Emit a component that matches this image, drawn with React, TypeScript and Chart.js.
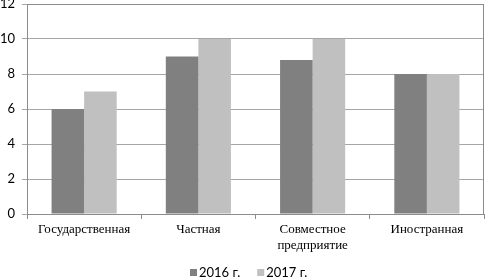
import React, { useEffect, useRef } from "react";
import { Chart, registerables } from "chart.js";

Chart.register(...registerables);

const categories: (string | string[])[] = [
  "Государственная",
  "Частная",
  ["Совместное", "предприятие"],
  "Иностранная",
];
const series2016 = [6, 9, 8.8, 8];
const series2017 = [7, 10, 10, 8];
const seriesLabels = ["2016 г.", "2017 г."];
const seriesColors = ["#808080", "#c0c0c0"];
const yTicks = [0, 2, 4, 6, 8, 10, 12];

const frame = {
  id: "frame",
  afterDraw(chart: any) {
    const { ctx, chartArea } = chart;
    ctx.save();
    ctx.strokeStyle = "#8c8c8c";
    ctx.lineWidth = 1;
    ctx.strokeRect(
      Math.round(chartArea.left) + 0.5,
      Math.round(chartArea.top) + 0.5,
      Math.round(chartArea.right - chartArea.left) - 1,
      Math.round(chartArea.bottom - chartArea.top)
    );
    ctx.restore();
  },
};

const bottomLegend = {
  id: "bottomLegend",
  afterDraw(chart: any) {
    const { ctx } = chart;
    ctx.save();
    ctx.font = "13px Lato";
    ctx.textBaseline = "middle";
    ctx.textAlign = "left";
    const box = 7;
    const gap = 2;
    const spacing = 17;
    const ds = chart.data.datasets;
    const widths = ds.map((d: any) => box + gap + ctx.measureText(d.label).width);
    const total = widths.reduce((a: number, b: number) => a + b, 0) + spacing * (ds.length - 1);
    let x = Math.round(248.5 - total / 2);
    const y = 272;
    ds.forEach((d: any, i: number) => {
      ctx.fillStyle = d.backgroundColor;
      ctx.fillRect(x, y - 3, box, box);
      ctx.fillStyle = "#000";
      ctx.fillText(d.label, x + box + gap, y + 1);
      x += widths[i] + spacing;
    });
    ctx.restore();
  },
};

export default function App() {
  const ref = useRef<HTMLCanvasElement>(null);
  useEffect(() => {
    document.body.style.margin = "0";
    const chart = new Chart(ref.current!, {
      type: "bar",
      data: {
        labels: categories,
        datasets: [
          {
            label: seriesLabels[0],
            data: series2016,
            backgroundColor: seriesColors[0],
            categoryPercentage: 0.57,
            barPercentage: 1,
          },
          {
            label: seriesLabels[1],
            data: series2017,
            backgroundColor: seriesColors[1],
            categoryPercentage: 0.57,
            barPercentage: 1,
          },
        ],
      },
      options: {
        animation: false,
        responsive: false,
        maintainAspectRatio: false,
        layout: { padding: { top: 4, right: 1, left: 0, bottom: 22 } },
        plugins: {
          tooltip: { enabled: false },
          legend: { display: false },
        },
        scales: {
          x: {
            grid: {
              drawOnChartArea: false,
              drawTicks: true,
              tickLength: 5,
              color: "#8c8c8c",
              offset: true,
            },
            border: { color: "#8c8c8c" },
            ticks: {
              color: "#000",
              font: { family: "'Liberation Serif', 'Times New Roman', serif", size: 13, lineHeight: 1.25 },
              maxRotation: 0,
              autoSkip: false,
              padding: 2,
            },
            afterFit: (s: any) => {
              s.height = 42;
              s.paddingLeft = 0;
              s.paddingRight = 0;
            },
          },
          y: {
            min: 0,
            max: 12,
            afterBuildTicks: (s: any) => {
              s.ticks = yTicks.map((v) => ({ value: v }));
            },
            grid: {
              color: "#a6a6a6",
              tickLength: 5,
            },
            border: { color: "#8c8c8c" },
            ticks: {
              color: "#000",
              font: { family: "Lato", size: 13 },
              padding: 7,
            },
            afterFit: (s: any) => {
              s.width = 27;
              s.paddingTop = 0;
              s.paddingBottom = 0;
            },
          },
        },
      },
      plugins: [frame, bottomLegend],
    });
    return () => chart.destroy();
  }, []);
  return (
    <div style={{ position: "absolute", left: 0, top: 0, width: 485, height: 278 }}>
      <canvas ref={ref} width={485} height={278} style={{ width: 485, height: 278 }} />
    </div>
  );
}
